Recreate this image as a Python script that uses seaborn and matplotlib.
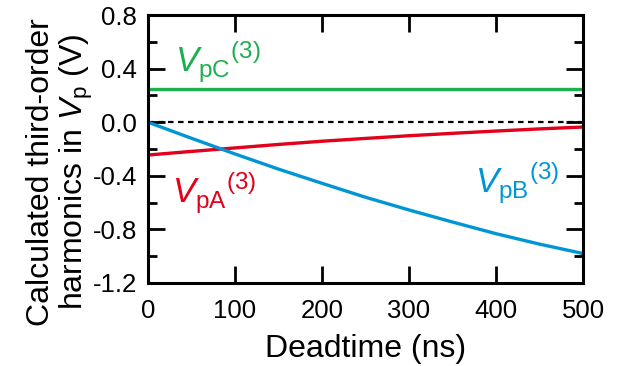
import numpy as np
import pandas as pd
import matplotlib
matplotlib.use("Agg")
import matplotlib.pyplot as plt
import seaborn as sns
from matplotlib.ticker import MultipleLocator

# Deadtime sweep (ns) and calculated third-order harmonics (V)
deadtime = [0, 50, 100, 150, 200, 250, 300, 350, 400, 450, 500]
v_pa = [-0.245, -0.218, -0.192, -0.166, -0.142, -0.121, -0.101, -0.083, -0.066, -0.050, -0.036]
v_pb = [0.000, -0.120, -0.237, -0.350, -0.456, -0.560, -0.655, -0.745, -0.832, -0.910, -0.980]
v_pc = [0.25, 0.25, 0.25, 0.25, 0.25, 0.25, 0.25, 0.25, 0.25, 0.25, 0.25]
zero_ref = [0.0, 0.0]
zero_x = [0, 500]

series_names = ["pA", "pB", "pC"]
series_colors = {"pA": "#E2001A", "pB": "#0096D6", "pC": "#1DB04E"}

df = pd.DataFrame({
    "Deadtime": deadtime * 3,
    "Value": v_pa + v_pb + v_pc,
    "Series": ["pA"] * len(deadtime) + ["pB"] * len(deadtime) + ["pC"] * len(deadtime),
})

sns.set_theme(style="ticks")
plt.rcParams["font.family"] = ["Liberation Sans", "DejaVu Sans"]
plt.rcParams["mathtext.fontset"] = "custom"
plt.rcParams["mathtext.rm"] = "Liberation Sans"
plt.rcParams["mathtext.it"] = "Liberation Sans:italic"
plt.rcParams["mathtext.bf"] = "Liberation Sans:bold"
plt.rcParams["axes.unicode_minus"] = False
plt.rcParams["text.color"] = "black"
plt.rcParams["axes.labelcolor"] = "black"

fig = plt.figure(figsize=(6.21, 3.66), dpi=100)
ax = fig.add_axes([0.2383, 0.2268, 0.7005, 0.7322])

# zero reference line
sns.lineplot(x=zero_x, y=zero_ref, ax=ax, color="black", lw=1.6,
             linestyle=(0, (2.5, 2.0)), legend=False)

sns.lineplot(data=df, x="Deadtime", y="Value", hue="Series",
             hue_order=series_names, palette=series_colors,
             lw=2.4, ax=ax, legend=False)

ax.set_xlim(0, 500)
ax.set_ylim(-1.2, 0.8)
ax.xaxis.set_major_locator(MultipleLocator(100))
ax.yaxis.set_major_locator(MultipleLocator(0.4))
ax.yaxis.set_minor_locator(MultipleLocator(0.2))
ax.yaxis.set_major_formatter(matplotlib.ticker.FormatStrFormatter("%.1f"))

for s in ax.spines.values():
    s.set_visible(True)
    s.set_linewidth(2.2)
    s.set_color("black")

ax.tick_params(axis="both", which="major", direction="in", length=12.5,
               width=2.0, labelsize=18.5, top=True, right=True, pad=8,
               color="black", labelcolor="black")
ax.tick_params(axis="x", which="major", pad=11.5)
ax.tick_params(axis="y", which="minor", direction="in", length=6.5,
               width=2.0, left=True, right=True, color="black")
ax.tick_params(axis="x", which="minor", bottom=False, top=False)

ax.set_xlabel("Deadtime (ns)", fontsize=23, labelpad=8, color="black")
ax.set_ylabel("Calculated third-order\nharmonics in $V_\\mathrm{p}$ (V)",
              fontsize=23, linespacing=1.08, color="black")
ax.yaxis.set_label_coords(-0.122, 0.414)

ax.text(31, 0.375, r"$V_\mathrm{pC}{}^{\mathrm{(3)}}$", color=series_colors["pC"],
        fontsize=25, ha="left", va="baseline")
ax.text(28, -0.603, r"$V_\mathrm{pA}{}^{\mathrm{(3)}}$", color=series_colors["pA"],
        fontsize=25, ha="left", va="baseline")
ax.text(376, -0.528, r"$V_\mathrm{pB}{}^{\mathrm{(3)}}$", color=series_colors["pB"],
        fontsize=25, ha="left", va="baseline")

fig.savefig("out.png", dpi=100, facecolor="white")
